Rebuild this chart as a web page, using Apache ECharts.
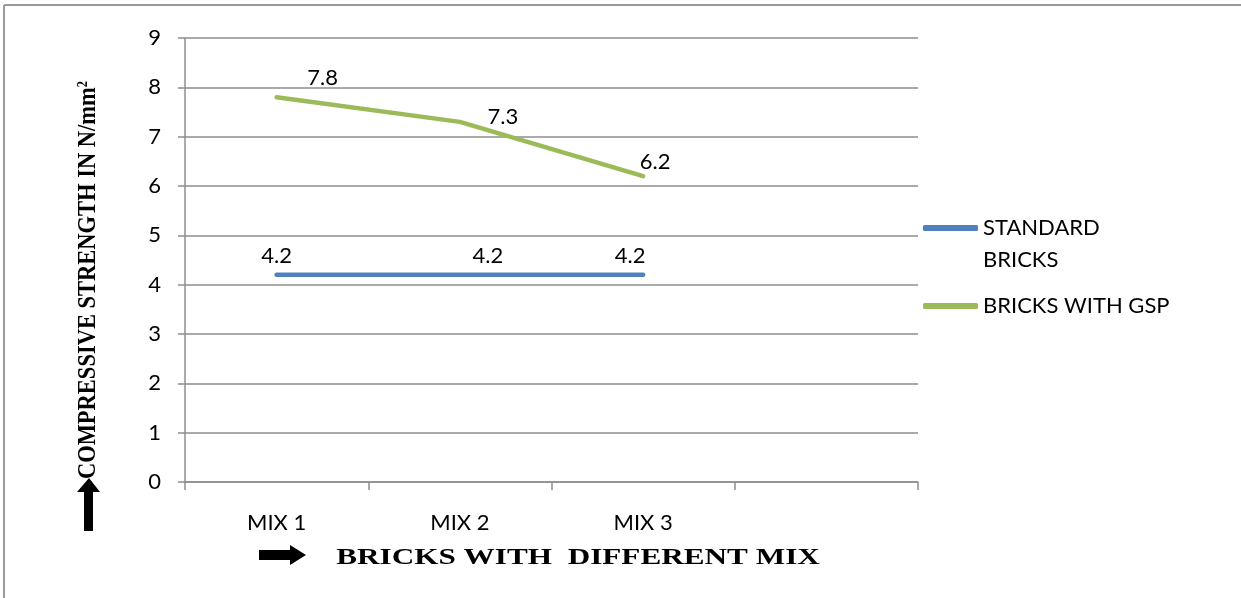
<!DOCTYPE html>
<html>
<head>
<meta charset="utf-8">
<script src="https://cdn.jsdelivr.net/npm/echarts@6/dist/echarts.min.js"></script>
<style>
  html, body { margin: 0; padding: 0; background: #fff; }
  #chart { width: 1241px; height: 598px; }
</style>
</head>
<body>
<div id="chart"></div>
<script>
// Compressive strength of bricks per mix
const categories = ['MIX 1', 'MIX 2', 'MIX 3', ''];
const standardBricks = [4.2, 4.2, 4.2];
const bricksWithGsp = [7.8, 7.3, 6.2];
const yTicks = [0, 1, 2, 3, 4, 5, 6, 7, 8, 9];

// hand-placed label offsets for each series
const standardLabelOffsets = [[0, 0], [28, 0], [-13, 0]];
const gspLabelOffsets = [[46, 2], [43, 16], [12, 7]];

const FONT = 'Lato, "Open Sans", sans-serif';
const SERIF = '"Liberation Serif", "DejaVu Serif", serif';
const GRID_COLOR = '#8e8e8e';

const chart = echarts.init(document.getElementById('chart'), null, { renderer: 'canvas' });

const labelText = { color: '#000', fontFamily: FONT, fontSize: 22 };

function withOffsets(values, offsets) {
  return values.map(function (v, i) {
    return { value: v, label: { offset: offsets[i] } };
  });
}

chart.setOption({
  backgroundColor: '#fff',
  animation: false,
  grid: { left: 185, top: 38, width: 733, height: 444, containLabel: false },
  legend: {
    left: 918,
    top: 175,
    orient: 'vertical',
    itemWidth: 55,
    itemHeight: 6,
    itemGap: 14,
    icon: 'roundRect',
    textStyle: { fontFamily: FONT, fontSize: 22, color: '#000', lineHeight: 32 },
    // the wrapped entry keeps its first line level with the swatch
    formatter: function (name) {
      return name === 'STANDARD BRICKS' ? ' \nSTANDARD\nBRICKS' : name;
    },
    data: ['STANDARD BRICKS', 'BRICKS WITH GSP']
  },
  xAxis: {
    type: 'category',
    data: categories,
    boundaryGap: true,
    axisLine: { show: true, lineStyle: { color: GRID_COLOR, width: 1.5 } },
    axisTick: { show: true, length: 8, lineStyle: { color: GRID_COLOR, width: 1.5 } },
    axisLabel: { margin: 30, color: '#000', fontFamily: FONT, fontSize: 22 },
    splitLine: { show: false }
  },
  yAxis: {
    type: 'value',
    min: yTicks[0],
    max: yTicks[yTicks.length - 1],
    interval: 1,
    axisLine: { show: true, lineStyle: { color: GRID_COLOR, width: 1.5 } },
    axisTick: { show: true, length: 7, lineStyle: { color: GRID_COLOR, width: 1.5 } },
    axisLabel: { margin: 24, color: '#000', fontFamily: FONT, fontSize: 22 },
    splitLine: { show: true, lineStyle: { color: GRID_COLOR, width: 1.5 } }
  },
  series: [
    {
      name: 'STANDARD BRICKS',
      type: 'line',
      data: withOffsets(standardBricks, standardLabelOffsets),
      symbol: 'circle',
      symbolSize: 0.01,
      showSymbol: true,
      color: '#4f81bd',
      lineStyle: { width: 4.5, cap: 'round', join: 'round' },
      label: Object.assign({ show: true, position: 'top', distance: 8 }, labelText)
    },
    {
      name: 'BRICKS WITH GSP',
      type: 'line',
      data: withOffsets(bricksWithGsp, gspLabelOffsets),
      symbol: 'circle',
      symbolSize: 0.01,
      showSymbol: true,
      color: '#9bbb59',
      lineStyle: { width: 4.5, cap: 'round', join: 'round' },
      label: Object.assign({ show: true, position: 'top', distance: 10 }, labelText)
    }
  ],
  graphic: [
    // frame along the top and left edges
    { type: 'line', shape: { x1: 4, y1: 5, x2: 1241, y2: 5 }, style: { stroke: '#9a9a9a', lineWidth: 2 } },
    { type: 'line', shape: { x1: 4, y1: 5, x2: 4, y2: 598 }, style: { stroke: '#9a9a9a', lineWidth: 2 } },
    // y-axis title
    {
      type: 'text',
      x: 89, y: 280,
      rotation: Math.PI / 2,
      scaleX: 0.9,
      style: {
        text: 'COMPRESSIVE STRENGTH IN N/mm{s|2}',
        rich: { s: { fontSize: 14, fontWeight: 'bold', fontFamily: SERIF, verticalAlign: 'top', padding: [0, 0, 10, 0] } },
        fontFamily: SERIF, fontWeight: 'bold', fontSize: 25, fill: '#000',
        align: 'center', verticalAlign: 'middle'
      }
    },
    // up arrow under the y title
    {
      type: 'polygon',
      shape: { points: [[89, 478], [100, 492], [93, 492], [93, 531], [84, 531], [84, 492], [77, 492]] },
      style: { fill: '#000' }
    },
    // x-axis title
    {
      type: 'text',
      x: 578, y: 558,
      scaleX: 1.3,
      style: {
        text: 'BRICKS WITH  DIFFERENT MIX',
        fontFamily: SERIF, fontWeight: 'bold', fontSize: 24, fill: '#000',
        align: 'center', verticalAlign: 'middle'
      }
    },
    // right arrow before the x title
    {
      type: 'polygon',
      shape: { points: [[306, 555], [290, 545], [290, 550], [259, 550], [259, 560], [290, 560], [290, 565]] },
      style: { fill: '#000' }
    }
  ]
});
</script>
</body>
</html>
